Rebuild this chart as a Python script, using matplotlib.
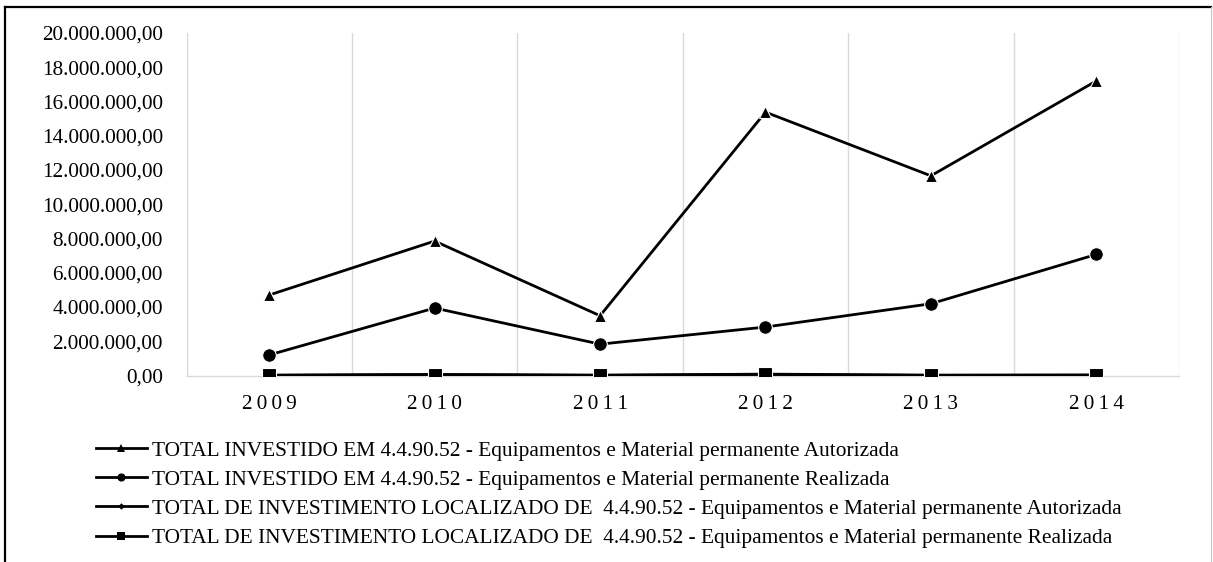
import matplotlib
matplotlib.use('Agg')
import matplotlib.pyplot as plt
from matplotlib.lines import Line2D
from matplotlib.ticker import FuncFormatter, MultipleLocator

plt.rcParams['font.family'] = ['Liberation Serif', 'DejaVu Serif']

anos = ['2009', '2010', '2011', '2012', '2013', '2014']

# valores em R$
investido_autorizada = [4.70e6, 7.85e6, 3.49e6, 15.38e6, 11.66e6, 17.20e6]
investido_realizada = [1.20e6, 3.94e6, 1.83e6, 2.83e6, 4.19e6, 7.07e6]
localizado_autorizada = [0.02e6, 0.06e6, 0.02e6, 0.08e6, 0.02e6, 0.03e6]
localizado_realizada = [0.01e6, 0.05e6, 0.01e6, 0.06e6, 0.01e6, 0.02e6]

rotulos = [
    'TOTAL INVESTIDO EM 4.4.90.52 - Equipamentos e Material permanente Autorizada',
    'TOTAL INVESTIDO EM 4.4.90.52 - Equipamentos e Material permanente Realizada',
    'TOTAL DE INVESTIMENTO LOCALIZADO DE  4.4.90.52 - Equipamentos e Material permanente Autorizada',
    'TOTAL DE INVESTIMENTO LOCALIZADO DE  4.4.90.52 - Equipamentos e Material permanente Realizada',
]


def moeda_br(v, pos=None):
    s = f'{v:,.2f}'
    return s.replace(',', 'X').replace('.', ',').replace('X', '.')


W, H = 1213, 562
fig = plt.figure(figsize=(W / 100, H / 100), dpi=100)
fig.patch.set_facecolor('white')
ax = fig.add_axes([186.5 / W, 1 - 375.5 / H, (1179 - 186.5) / W, (375.5 - 33) / H])

x = list(range(len(anos)))
series = [
    (investido_autorizada, '^', 8.6),
    (investido_realizada, 'o', 9.8),
    (localizado_autorizada, 'D', 5.5),
    (localizado_realizada, 's', 9.4),
]
handles = []
for (vals, mk, ms), lab in zip(series, rotulos):
    ln, = ax.plot(x, vals, color='black', linewidth=2.0, marker=mk, markersize=ms,
                  markerfacecolor='black', markeredgecolor='white', markeredgewidth=0.8,
                  label=lab, zorder=3)
    handles.append(ln)

ax.set_xlim(-0.5, len(anos) - 0.5)
ax.set_ylim(0, 20e6)
ax.yaxis.set_major_locator(MultipleLocator(2e6))
ax.yaxis.set_major_formatter(FuncFormatter(moeda_br))

# grade vertical entre as categorias
for b in [i - 0.5 for i in range(len(anos) + 1)]:
    ax.axvline(b, color='#d9d9d9', linewidth=1.0, zorder=1)

ax.set_xticks(x)
ax.set_xticklabels(['\u2009'.join(a) for a in anos])
ax.tick_params(axis='both', length=0, labelsize=15.3, colors='black')
ax.tick_params(axis='y', pad=17)
ax.tick_params(axis='x', pad=14)
for s in ['top', 'right', 'left']:
    ax.spines[s].set_visible(False)
ax.spines['bottom'].set_color('#d9d9d9')
ax.spines['bottom'].set_linewidth(1.0)

leg = fig.legend(handles=handles, loc='upper left',
                 bbox_to_anchor=(87 / W, 1 - 432 / H), frameon=False,
                 fontsize=15.4, handlelength=2.4, handletextpad=0.22,
                 labelspacing=0.43, markerscale=0.6, borderaxespad=0)
for h in leg.legend_handles:
    h.set_markeredgewidth(0)

# moldura da figura
fig.add_artist(Line2D([5 / W, 1211 / W], [1 - 6.5 / H, 1 - 6.5 / H],
                      transform=fig.transFigure, color='black', linewidth=1.6))
fig.add_artist(Line2D([5 / W, 5 / W], [0, 1 - 6.5 / H],
                      transform=fig.transFigure, color='black', linewidth=1.6))
fig.add_artist(Line2D([1210.5 / W, 1210.5 / W], [0, 1 - 6.5 / H],
                      transform=fig.transFigure, color='#c8c8c8', linewidth=0.8))

fig.savefig('out.png', dpi=100, facecolor='white')
plt.close(fig)
